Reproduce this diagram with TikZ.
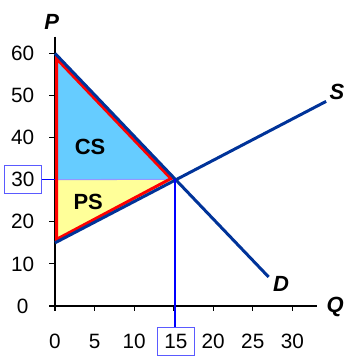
\documentclass[tikz,border=0pt]{standalone}
\usepackage{fontspec}
\setmainfont{Liberation Sans}
\usetikzlibrary{positioning}
\definecolor{curveblue}{RGB}{0,51,153}
\definecolor{csblue}{RGB}{102,204,255}
\definecolor{psyellow}{RGB}{255,255,153}
\definecolor{boxblue}{RGB}{90,90,255}
\definecolor{splitline}{RGB}{150,150,255}
\tikzset{
    ticklabel/.style={font=\fontsize{11.8}{14}\selectfont, inner sep=0pt},
    areatext/.style={font=\fontsize{12.5}{15}\selectfont\bfseries, inner sep=0pt},
    axislabel/.style={font=\fontsize{12.5}{15}\selectfont\bfseries\itshape, inner sep=0pt},
    valuebox/.style={draw=boxblue, line width=0.6pt, minimum width=0.75cm, minimum height=0.57cm, inner sep=0pt, font=\fontsize{11.8}{14}\selectfont},
    curve/.style={draw=curveblue, line width=1.7pt},
    guide/.style={draw=blue, line width=0.6pt},
    axisline/.style={draw=black, line width=0.6pt}
}

\begin{document}
\begin{tikzpicture}[x=0.1582cm, y=0.0842cm]
    \useasboundingbox (-6.953,-11.876) rectangle (36.41,72.68);

    % key points
    \coordinate (origin) at (0,0);
    \coordinate (dtop) at (0,60);
    \coordinate (sbot) at (0,15);
    \coordinate (pstar) at (0,30);
    \coordinate (eq) at (15.17,30.1);
    \coordinate (dend) at (27.0,6.9);
    \coordinate (send) at (34.27,48.6);

    % surplus areas
    \fill[csblue] (dtop) -- (eq) -- (pstar) -- cycle;
    \fill[psyellow] (pstar) -- (eq) -- (sbot) -- cycle;
    \draw[splitline, line width=0.6pt] (pstar) -- (eq);

    % axes and ticks
    \draw[axisline] (0,64) -- (origin) -- (33.1,0);
    \foreach \v in {0,10,...,60}
        \draw[axisline] (0,\v) -- (-0.7,\v);
    \foreach \u in {0,5,...,30}
        \draw[axisline] (\u,0) -- (\u,-1.3);
    \foreach \v in {0,10,20,40,50,60}
        \node[ticklabel] (ylab\v) at (-4.09,\v) {\v};
    \foreach \u in {0,5,10,20,25,30}
        \node[ticklabel] (xlab\u) at (\u,-8.4) {\u};
    \node[axislabel] (plab) at (-0.42,67.5) {P};
    \node[axislabel] (qlab) at (35.4,-0.2) {Q};

    % outline of the surplus
    \draw[red, line width=1.7pt] (0.19,58.76) -- (14.65,30.26) -- (0.19,15.82) -- cycle;

    % demand and supply
    \draw[curve] (dtop) -- (dend);
    \draw[curve] (sbot) -- (send);
    \node[axislabel] (slab) at (35.65,50.9) {S};
    \node[axislabel] (dlab) at (28.57,5.2) {D};

    \node[areatext] (cs) at (4.43,37.8) {CS};
    \node[areatext] (ps) at (4.2,24.6) {PS};

    % equilibrium values
    \node[valuebox] (p30) at (-4.05,30) {30};
    \node[valuebox] (q15) at (15.29,-8.48) {15};
    \draw[guide] (p30.east) -- (pstar);
    \draw[guide] (eq) -- (eq |- q15.north);
\end{tikzpicture}
\end{document}
